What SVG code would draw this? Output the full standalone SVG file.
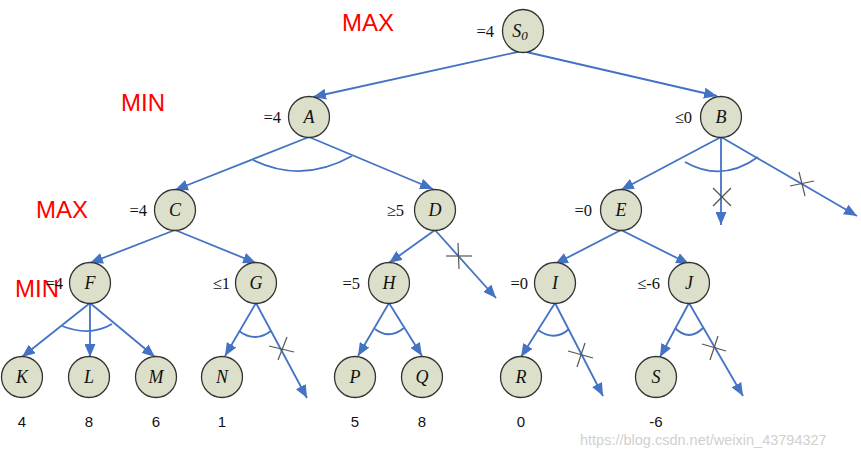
<svg xmlns="http://www.w3.org/2000/svg" width="861" height="456" viewBox="0 0 861 456">
<defs>
<marker id="ah" markerUnits="userSpaceOnUse" markerWidth="13" markerHeight="11" refX="13" refY="5.5" orient="auto">
<path d="M0,0 L13,5.5 L0,11 z" fill="#4472C4"/>
</marker>
<style>
.e{stroke:#4472C4;stroke-width:1.8;fill:none;marker-end:url(#ah)}
.arc{stroke:#4472C4;stroke-width:1.8;fill:none}
.x{stroke:#555;stroke-width:1.2}
.n{fill:#dcdfc9;stroke:#333;stroke-width:1.3}
.t{font-family:"Liberation Serif",serif;font-style:italic;font-size:18px;text-anchor:middle;fill:#111}
.v{font-family:"Liberation Serif",serif;font-size:16.5px;text-anchor:end;fill:#111}
.b{font-family:"Liberation Sans",sans-serif;font-size:15px;text-anchor:middle;fill:#111}
.lv{font-family:"Liberation Sans",sans-serif;font-size:24px;fill:#ff0000}
</style>
</defs>
<rect width="861" height="456" fill="#fff"/>
<g id="connectors">
<line class="e" x1="522" y1="51" x2="313" y2="97"/>
<line class="e" x1="522" y1="51" x2="717" y2="96"/>
<line class="e" x1="309" y1="137" x2="175" y2="190"/>
<line class="e" x1="309" y1="137" x2="433" y2="189"/>
<line class="e" x1="721" y1="137" x2="621" y2="190"/>
<line class="e" x1="721" y1="137" x2="721" y2="225"/>
<line class="e" x1="721" y1="137" x2="857" y2="216"/>
<line class="e" x1="175" y1="230" x2="90" y2="263"/>
<line class="e" x1="175" y1="230" x2="256" y2="263"/>
<line class="e" x1="435" y1="230" x2="389" y2="263"/>
<line class="e" x1="435" y1="230" x2="496" y2="298"/>
<line class="e" x1="621" y1="230" x2="555" y2="264"/>
<line class="e" x1="621" y1="230" x2="689" y2="264"/>
<line class="e" x1="90" y1="303" x2="22" y2="357"/>
<line class="e" x1="90" y1="303" x2="90" y2="357"/>
<line class="e" x1="90" y1="303" x2="155" y2="357"/>
<line class="e" x1="256" y1="303" x2="225" y2="356"/>
<line class="e" x1="256" y1="303" x2="307" y2="398"/>
<line class="e" x1="389" y1="303" x2="358" y2="356"/>
<line class="e" x1="389" y1="303" x2="422" y2="356"/>
<line class="e" x1="555" y1="303" x2="521" y2="357"/>
<line class="e" x1="555" y1="303" x2="603" y2="396"/>
<line class="e" x1="689" y1="303" x2="660" y2="357"/>
<line class="e" x1="689" y1="303" x2="743" y2="396"/>
<path class="arc" d="M253,160 Q302,184 352,156"/>
<path class="arc" d="M685,162 Q722,183 758,157"/>
<path class="arc" d="M62,326 Q90,337 112,324"/>
<path class="arc" d="M239,331 Q255,343 271,331"/>
<path class="arc" d="M375,329 Q389,340 404,328"/>
<path class="arc" d="M538,330 Q555,342 569,329"/>
<path class="arc" d="M675,328 Q689,342 703,328"/>
<line class="x" x1="713" y1="188" x2="731" y2="206"/>
<line class="x" x1="731" y1="188" x2="713" y2="206"/>
<line class="x" x1="790" y1="186" x2="814" y2="181"/>
<line class="x" x1="799" y1="172" x2="805" y2="196"/>
<line class="x" x1="446" y1="256" x2="472" y2="256"/>
<line class="x" x1="458" y1="243" x2="459" y2="269"/>
<line class="x" x1="269" y1="346" x2="294" y2="352"/>
<line class="x" x1="287" y1="337" x2="278" y2="360"/>
<line class="x" x1="568" y1="351" x2="593" y2="358"/>
<line class="x" x1="585" y1="343" x2="577" y2="367"/>
<line class="x" x1="702" y1="344" x2="726" y2="351"/>
<line class="x" x1="718" y1="336" x2="710" y2="360"/>
</g>
<g id="levels">
<text class="lv" x="342" y="31">MAX</text>
<text class="lv" x="121" y="111">MIN</text>
<text class="lv" x="36" y="218">MAX</text>
<text class="lv" x="15" y="297">MIN</text>
</g>
<g id="S0"><ellipse class="n" cx="523" cy="31" rx="20.5" ry="21.5"/><text class="t" x="520" y="37">S<tspan font-size="13" dy="3">0</tspan></text><text class="v" x="494" y="37">=4</text></g>
<g id="A"><circle class="n" cx="309" cy="117" r="20.5"/><text class="t" x="309" y="123">A</text><text class="v" x="281" y="123">=4</text></g>
<g id="B"><circle class="n" cx="721" cy="117" r="20.5"/><text class="t" x="721" y="123">B</text><text class="v" x="692" y="123">≤0</text></g>
<g id="C"><circle class="n" cx="175" cy="210" r="20.5"/><text class="t" x="175" y="216">C</text><text class="v" x="147" y="216">=4</text></g>
<g id="D"><circle class="n" cx="435" cy="210" r="20.5"/><text class="t" x="435" y="216">D</text><text class="v" x="404" y="216">≥5</text></g>
<g id="E"><circle class="n" cx="621" cy="210" r="20.5"/><text class="t" x="621" y="216">E</text><text class="v" x="592" y="216">=0</text></g>
<g id="F"><circle class="n" cx="90" cy="283" r="20.5"/><text class="t" x="90" y="289">F</text><text class="v" x="63" y="289">=4</text></g>
<g id="G"><circle class="n" cx="256" cy="283" r="20.5"/><text class="t" x="256" y="289">G</text><text class="v" x="230" y="289">≤1</text></g>
<g id="H"><circle class="n" cx="389" cy="283" r="20.5"/><text class="t" x="389" y="289">H</text><text class="v" x="360" y="289">=5</text></g>
<g id="I"><circle class="n" cx="555" cy="283" r="20.5"/><text class="t" x="555" y="289">I</text><text class="v" x="528" y="289">=0</text></g>
<g id="J"><circle class="n" cx="689" cy="283" r="20.5"/><text class="t" x="689" y="289">J</text><text class="v" x="660" y="289">≤-6</text></g>
<g id="K"><circle class="n" cx="22" cy="377" r="20.5"/><text class="t" x="22" y="383">K</text><text class="b" x="22" y="427">4</text></g>
<g id="L"><circle class="n" cx="89" cy="377" r="20.5"/><text class="t" x="89" y="383">L</text><text class="b" x="89" y="427">8</text></g>
<g id="M"><circle class="n" cx="156" cy="377" r="20.5"/><text class="t" x="156" y="383">M</text><text class="b" x="156" y="427">6</text></g>
<g id="N"><circle class="n" cx="222" cy="377" r="20.5"/><text class="t" x="222" y="383">N</text><text class="b" x="222" y="427">1</text></g>
<g id="P"><circle class="n" cx="355" cy="377" r="20.5"/><text class="t" x="355" y="383">P</text><text class="b" x="355" y="427">5</text></g>
<g id="Q"><circle class="n" cx="422" cy="377" r="20.5"/><text class="t" x="422" y="383">Q</text><text class="b" x="422" y="427">8</text></g>
<g id="R"><circle class="n" cx="521" cy="377" r="20.5"/><text class="t" x="521" y="383">R</text><text class="b" x="521" y="427">0</text></g>
<g id="S"><circle class="n" cx="656" cy="377" r="20.5"/><text class="t" x="656" y="383">S</text><text class="b" x="656" y="427">-6</text></g>
<text x="580" y="444.5" font-family="Liberation Sans, sans-serif" font-size="14.5" fill="#d0d0d0">https://blog.csdn.net/weixin_43794327</text>
</svg>
